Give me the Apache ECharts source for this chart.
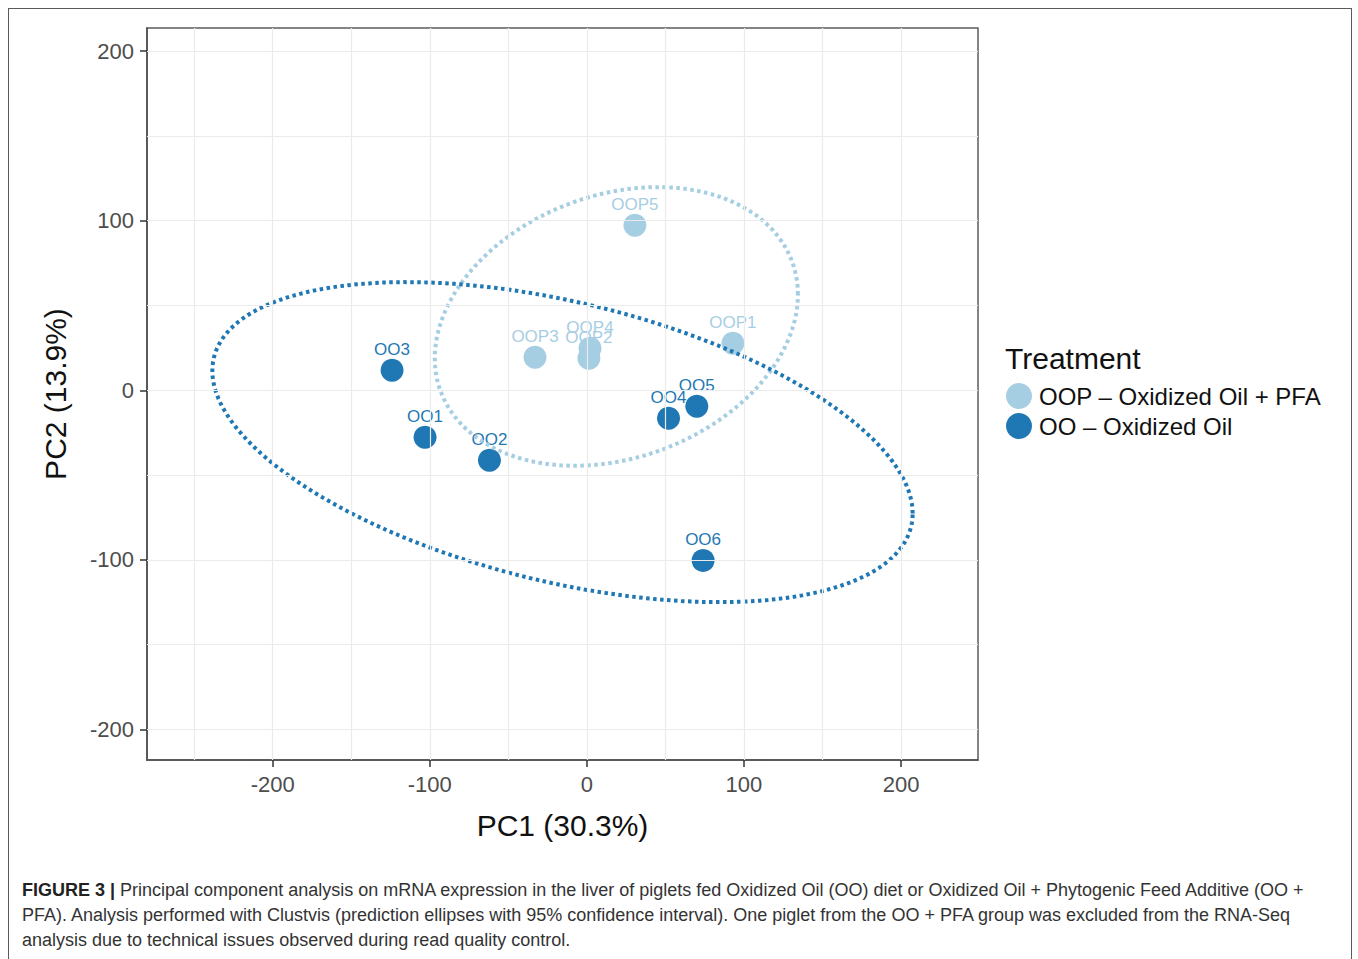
<!DOCTYPE html>
<html>
<head>
<meta charset="utf-8">
<script src="https://cdn.jsdelivr.net/npm/echarts@6/dist/echarts.min.js"></script>
<style>
  html, body { margin: 0; padding: 0; background: #fff; }
  body { width: 1358px; height: 959px; position: relative; overflow: hidden; font-family: "Liberation Sans", Arial, sans-serif; }
  #frame { position: absolute; left: 8px; top: 8px; width: 1344px; height: 1000px; border: 1.5px solid #5a5a5a; box-sizing: border-box; }
  #chart { position: absolute; left: 0; top: 0; width: 1358px; height: 870px; }
  #caption { position: absolute; left: 22px; top: 878px; font-size: 18px; line-height: 25px; color: #333; white-space: nowrap; }
  #caption b { color: #222; }
</style>
</head>
<body>
<div id="frame"></div>
<div id="chart"></div>
<div id="caption">
<div><b>FIGURE 3 |</b> Principal component analysis on mRNA expression in the liver of piglets fed Oxidized Oil (OO) diet or Oxidized Oil + Phytogenic Feed Additive (OO +</div>
<div>PFA). Analysis performed with Clustvis (prediction ellipses with 95% confidence interval). One piglet from the OO + PFA group was excluded from the RNA-Seq</div>
<div>analysis due to technical issues observed during read quality control.</div>
</div>
<script>
// ---- data ----
const oopNames = ["OOP1", "OOP2", "OOP3", "OOP4", "OOP5"];
const oopPC1 = [93, 1.3, -33, 2, 30.6];
const oopPC2 = [27.7, 18.9, 19.5, 24.8, 97.3];

const ooNames = ["OO1", "OO2", "OO3", "OO4", "OO5", "OO6"];
const ooPC1 = [-103, -62, -124, 52, 70, 74];
const ooPC2 = [-27.7, -41.3, 11.8, -16.5, -9.4, -100.3];

const xTicks = [-200, -100, 0, 100, 200];
const yTicks = [-200, -100, 0, 100, 200];
const xMinor = [-250, -150, -50, 50, 150];
const yMinor = [-150, -50, 50, 150];

const groupLabels = ["OOP \u2013 Oxidized Oil + PFA", "OO \u2013 Oxidized Oil"];
const colors = ["#a6cee3", "#1f78b4"];

// 95% normal-theory ellipse from each group's mean and covariance (chi-square, 2 df)
function ellipse(xs, ys) {
  const n = xs.length;
  const mx = xs.reduce((a, b) => a + b, 0) / n;
  const my = ys.reduce((a, b) => a + b, 0) / n;
  let sxx = 0, syy = 0, sxy = 0;
  for (let i = 0; i < n; i++) {
    sxx += (xs[i] - mx) ** 2; syy += (ys[i] - my) ** 2; sxy += (xs[i] - mx) * (ys[i] - my);
  }
  sxx /= n - 1; syy /= n - 1; sxy /= n - 1;
  const r = Math.sqrt(5.991464547);
  const l11 = Math.sqrt(sxx), l21 = sxy / l11, l22 = Math.sqrt(syy - l21 * l21);
  const pts = [];
  for (let k = 0; k <= 200; k++) {
    const t = 2 * Math.PI * k / 200;
    const u = Math.cos(t), v = Math.sin(t);
    pts.push([mx + r * l11 * u, my + r * (l21 * u + l22 * v)]);
  }
  return pts;
}

const pts = (xs, ys, names) => xs.map((x, i) => ({ value: [x, ys[i]], name: names[i] }));

const chart = echarts.init(document.getElementById('chart'), null, { renderer: 'svg' });

const gridLine = { color: '#ebebeb', width: 1.2, type: 'solid' };
const markLines = {
  silent: true, symbol: 'none', label: { show: false }, lineStyle: gridLine, animation: false,
  data: [
    ...xTicks.concat(xMinor).map(v => ({ xAxis: v })),
    ...yTicks.concat(yMinor).map(v => ({ yAxis: v }))
  ]
};

chart.setOption({
  animation: false,
  grid: { left: 147, top: 28, width: 831, height: 732, show: true, borderColor: '#5c5c5c', borderWidth: 1.5, backgroundColor: '#fff' },
  xAxis: {
    type: 'value', min: -280, max: 249,
    name: 'PC1 (30.3%)', nameLocation: 'middle', nameGap: 50,
    nameTextStyle: { fontSize: 30, color: '#111', fontFamily: 'Liberation Sans' },
    axisLine: { show: true, onZero: false, lineStyle: { color: '#4d4d4d', width: 1.5 } },
    axisTick: { show: true, length: 7, customValues: xTicks, lineStyle: { color: '#333', width: 1.5 } },
    axisLabel: { customValues: xTicks, fontSize: 22, color: '#4d4d4d', margin: 13, fontFamily: 'Liberation Sans' },
    splitLine: { show: false }
  },
  yAxis: {
    type: 'value', min: -218, max: 213.6,
    name: 'PC2 (13.9%)', nameLocation: 'middle', nameGap: 77, nameRotate: 90,
    nameTextStyle: { fontSize: 30, color: '#111', fontFamily: 'Liberation Sans' },
    axisLine: { show: true, onZero: false, lineStyle: { color: '#4d4d4d', width: 1.5 } },
    axisTick: { show: true, length: 7, customValues: yTicks, lineStyle: { color: '#333', width: 1.5 } },
    axisLabel: { customValues: yTicks, fontSize: 22, color: '#4d4d4d', margin: 13, fontFamily: 'Liberation Sans' },
    splitLine: { show: false }
  },
  legend: {
    orient: 'vertical', left: 1001, top: 378, itemWidth: 26, itemHeight: 26, itemGap: 4,
    icon: 'circle', data: groupLabels,
    textStyle: { fontSize: 24, color: '#111', fontFamily: 'Liberation Sans', padding: [0, 0, 0, 2] }
  },
  graphic: [{
    type: 'text', left: 1005, top: 343,
    style: { text: 'Treatment', fontSize: 30, fill: '#111', fontFamily: 'Liberation Sans' }
  }],
  series: [
    {
      name: 'grid', type: 'line', data: [], silent: true, markLine: markLines, z: 1
    },
    {
      name: groupLabels[0], type: 'scatter', data: pts(oopPC1, oopPC2, oopNames),
      symbolSize: 23, itemStyle: { color: colors[0], opacity: 1 }, z: 3,
      label: { show: true, position: 'top', distance: 1, formatter: '{b}', fontSize: 17, color: colors[0], fontFamily: 'Liberation Sans' },
      labelLayout: { hideOverlap: false }
    },
    {
      name: groupLabels[1], type: 'scatter', data: pts(ooPC1, ooPC2, ooNames),
      symbolSize: 23, itemStyle: { color: colors[1], opacity: 1 }, z: 3,
      label: { show: true, position: 'top', distance: 1, formatter: '{b}', fontSize: 17, color: colors[1], fontFamily: 'Liberation Sans' },
      labelLayout: { hideOverlap: false }
    },
    {
      name: 'ellipseOOP', type: 'line', data: ellipse(oopPC1, oopPC2), showSymbol: false, silent: true, z: 4,
      lineStyle: { color: colors[0], width: 4, type: [3.5, 3.5], cap: 'butt' }
    },
    {
      name: 'ellipseOO', type: 'line', data: ellipse(ooPC1, ooPC2), showSymbol: false, silent: true, z: 4,
      lineStyle: { color: colors[1], width: 4, type: [3.5, 3.5], cap: 'butt' }
    }
  ]
});
</script>
</body>
</html>
